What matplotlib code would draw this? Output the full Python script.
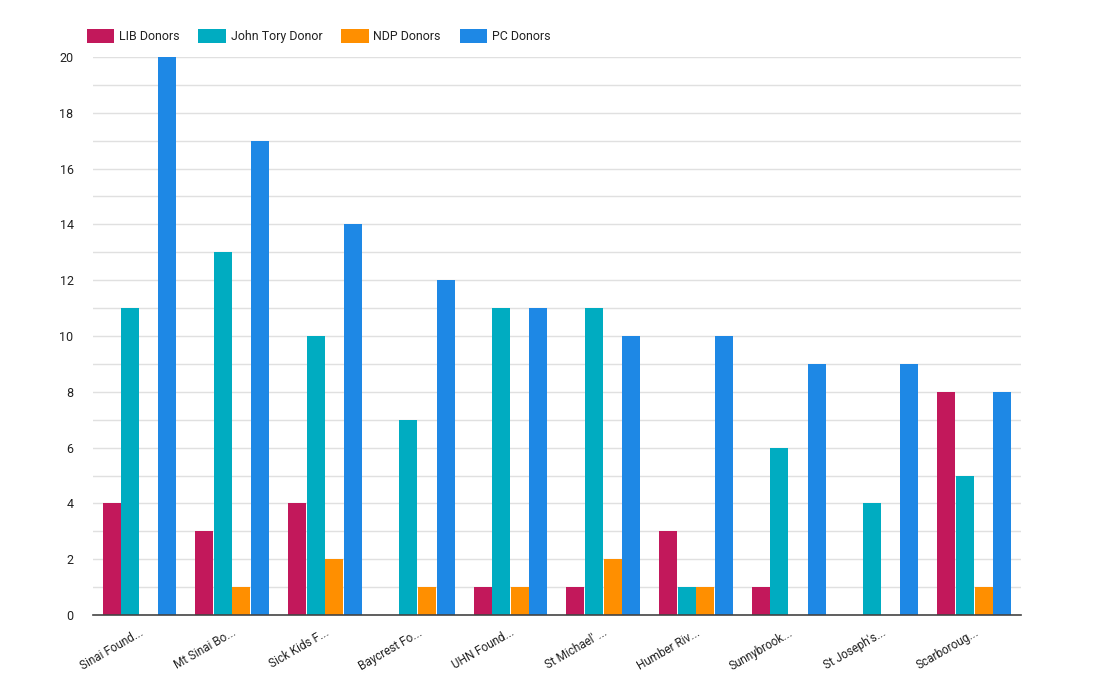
import matplotlib
matplotlib.use("Agg")
import matplotlib.pyplot as plt
from matplotlib.patches import Patch
import numpy as np

plt.rcParams['font.family'] = ['Roboto', 'DejaVu Sans']

categories = ["Sinai Found...", "Mt Sinai Bo...", "Sick Kids F...", "Baycrest Fo...", "UHN Found...",
              "St Michael' ...", "Humber Riv...", "Sunnybrook...", "St Joseph's...", "Scarboroug..."]
series_names = ["LIB Donors", "John Tory Donor", "NDP Donors", "PC Donors"]
lib = [4, 3, 4, 0, 1, 1, 3, 1, 0, 8]
tory = [11, 13, 10, 7, 11, 11, 1, 6, 4, 5]
ndp = [0, 1, 2, 1, 1, 2, 1, 0, 0, 1]
pc = [20, 17, 14, 12, 11, 10, 10, 9, 9, 8]
colors = ["#C2185B", "#00ACC1", "#FF8F00", "#1E88E5"]

fig = plt.figure(figsize=(10.94, 6.94), dpi=100)
ax = fig.add_axes([0.085, 0.1138, 0.848, 0.8041])

x = np.arange(len(categories))
w = 0.2
for i, (vals, c) in enumerate(zip([lib, tory, ndp, pc], colors)):
    ax.bar(x + (i - 1.5) * w, vals, width=w * 0.97, color=c, zorder=3)

ax.set_xlim(-0.5, len(categories) - 0.5)
ax.set_ylim(0, 20)
ax.set_yticks(range(0, 21, 2))
ax.set_yticks(range(0, 21, 1), minor=True)
ax.grid(axis='y', which='both', color='#E0E0E0', linewidth=1, zorder=0)
ax.tick_params(axis='y', which='both', length=0, labelsize=9, colors='#222222', pad=14)
ax.set_xticks(x)
ax.set_xticklabels(categories, rotation=30, ha='right', rotation_mode='anchor', fontsize=8.5, color='#222222')
ax.tick_params(axis='x', length=0, pad=8)
for s in ['top', 'right', 'left']:
    ax.spines[s].set_visible(False)
ax.spines['bottom'].set_color('#444444')
ax.spines['bottom'].set_linewidth(1.2)
ax.spines['bottom'].set_zorder(4)

handles = [Patch(facecolor=c, label=n) for c, n in zip(colors, series_names)]
fig.legend(handles=handles, loc='upper left', bbox_to_anchor=(0.069, 0.974), ncol=4, frameon=False,
           fontsize=8.9, handlelength=2.2, handleheight=1.35, columnspacing=1.55, handletextpad=0.4,
           labelcolor='#222222')

fig.savefig("out.png", dpi=100)
